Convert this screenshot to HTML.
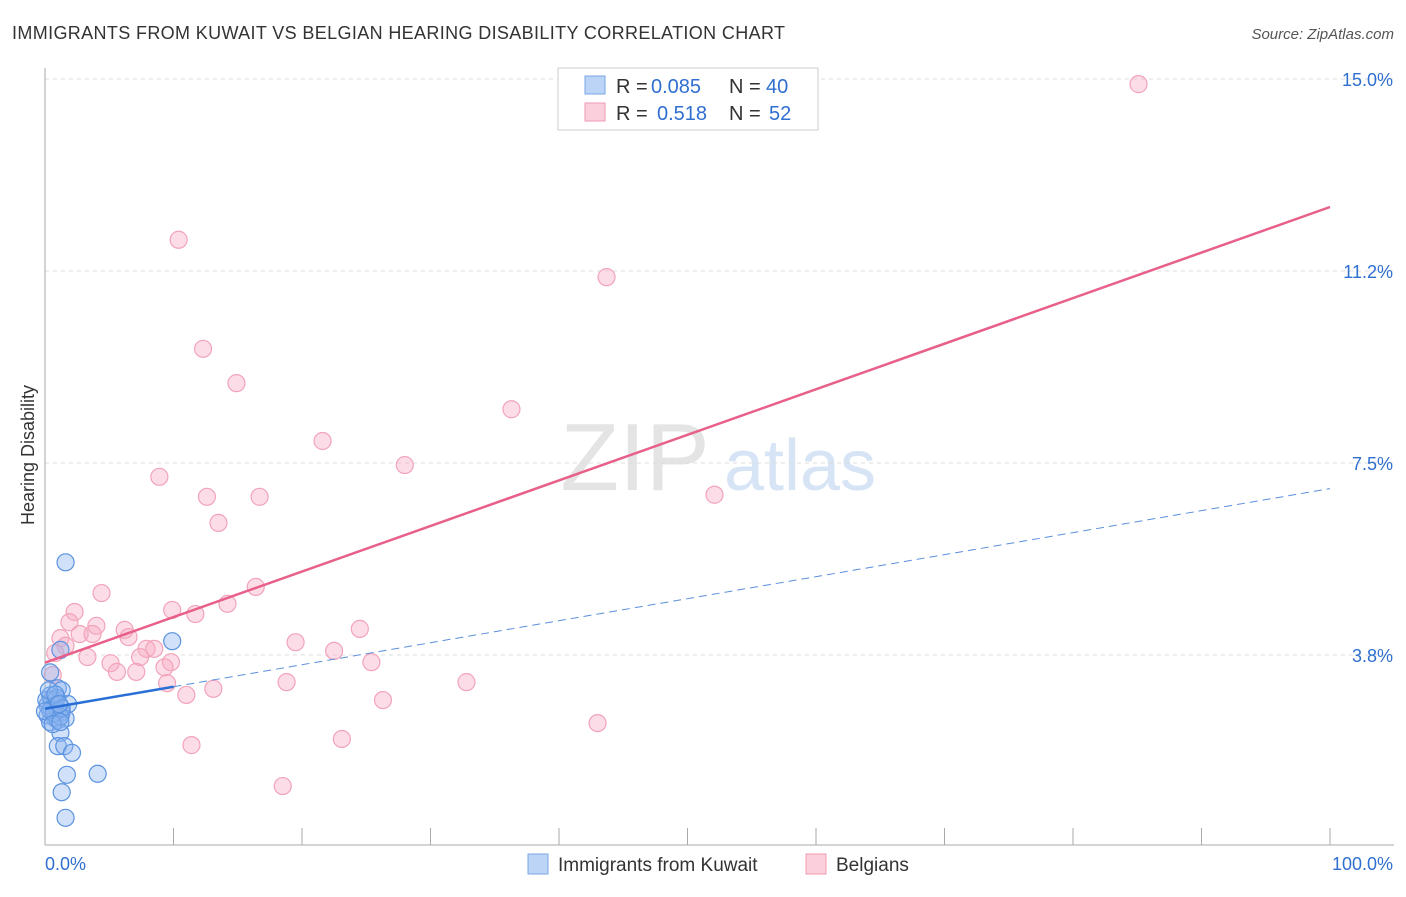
<!DOCTYPE html>
<html><head><meta charset="utf-8"><style>
body{margin:0;background:#fff;font-family:"Liberation Sans",sans-serif;}
svg text{font-family:"Liberation Sans",sans-serif;}
</style></head><body>
<svg id="chart" width="1406" height="892">
<text x="12" y="39" font-size="18" fill="#333" textLength="773">IMMIGRANTS FROM KUWAIT VS BELGIAN HEARING DISABILITY CORRELATION CHART</text>
<text x="1394" y="39" font-size="15" fill="#555" font-style="italic" text-anchor="end">Source: ZipAtlas.com</text>
<text x="34" y="455" font-size="18" fill="#333" transform="rotate(-90 34 455)" text-anchor="middle">Hearing Disability</text>
<g><text x="635" y="490" font-size="96" fill="#e4e4e4" font-family="Liberation Serif" text-anchor="middle">ZIP</text><text x="800" y="490" font-size="72" fill="#d6e4f5" text-anchor="middle">atlas</text></g>
<g id="grid"></g><g id="marks"></g>
<g>
<rect x="558" y="68" width="260" height="62" fill="#fff" stroke="#ccc"/>
<rect x="585" y="76" width="20" height="18" fill="#bcd4f5" stroke="#7aa6e6"/>
<rect x="585" y="103" width="20" height="18" fill="#fbd0dc" stroke="#f09ab2"/>
<text x="616" y="93" font-size="20" fill="#333">R =</text><text x="651" y="93" font-size="20" fill="#2f6fd0">0.085</text>
<text x="729" y="93" font-size="20" fill="#333">N =</text><text x="766" y="93" font-size="20" fill="#2f6fd0">40</text>
<text x="616" y="120" font-size="20" fill="#333">R =</text><text x="657" y="120" font-size="20" fill="#2f6fd0">0.518</text>
<text x="729" y="120" font-size="20" fill="#333">N =</text><text x="769" y="120" font-size="20" fill="#2f6fd0">52</text>
</g>
<g>
<rect x="528" y="854" width="20" height="20" fill="#bcd4f5" stroke="#7aa6e6"/>
<text x="558" y="871" font-size="19" fill="#333">Immigrants from Kuwait</text>
<rect x="806" y="854" width="20" height="20" fill="#fbd0dc" stroke="#f09ab2"/>
<text x="836" y="871" font-size="19" fill="#333">Belgians</text>
</g>
</svg>
<script>
const yTicks=[3.75,7.5,11.25,15];
const yTickLabels=["3.8%","7.5%","11.2%","15.0%"];
const xTickLabels=["0.0%","100.0%"];
const blueX=[1.6,1.2,9.9,0.4,1.0,1.3,0.4,0.8,1.8,0.2,0.5,1.0,1.3,0.2,0.8,1.6,0.4,1.0,1.2,1.0,1.5,2.1,1.7,4.1,1.3,1.6,0.5,0.8,1.2,0.1,0.4,0.7,0.9,1.3,0.0,0.6,1.2,0.3,0.8,1.1];
const blueY=[5.56,3.85,4.02,3.41,3.1,3.06,2.96,2.87,2.79,2.77,2.71,2.67,2.63,2.57,2.51,2.51,2.44,2.48,2.23,1.97,1.97,1.84,1.41,1.43,1.07,0.57,2.87,2.77,2.55,2.87,2.67,2.61,2.91,2.71,2.65,2.4,2.44,3.06,2.98,2.79];
const pinkX=[85.1,10.4,43.7,12.3,14.9,36.3,21.6,28.0,8.9,12.6,16.7,52.1,13.5,16.4,4.4,9.9,14.2,2.3,11.7,1.9,4.0,6.2,24.5,2.7,3.7,6.5,1.2,19.5,1.6,7.9,8.5,22.5,0.8,3.3,7.4,5.1,9.8,9.3,25.4,5.6,7.1,0.6,9.5,18.8,32.8,13.1,11.0,26.3,43.0,11.4,23.1,18.5];
const pinkY=[14.9,11.86,11.13,9.73,9.06,8.55,7.93,7.46,7.23,6.84,6.84,6.88,6.33,5.08,4.96,4.63,4.75,4.59,4.55,4.39,4.32,4.24,4.26,4.16,4.16,4.1,4.08,4.0,3.93,3.87,3.87,3.83,3.79,3.71,3.71,3.59,3.61,3.51,3.61,3.42,3.42,3.36,3.2,3.22,3.22,3.09,2.97,2.87,2.42,1.99,2.11,1.19];
const pinkTrend=[3.6,12.5];
const blueTrend=[2.7,7.0];
const X=v=>45+v*12.85, Y=v=>847-v*51.2;
const NS="http://www.w3.org/2000/svg";
const grid=document.getElementById('grid'), marks=document.getElementById('marks');
function mk(tag,attrs,parent){const e=document.createElementNS(NS,tag);for(const k in attrs)e.setAttribute(k,attrs[k]);parent.appendChild(e);return e;}
yTicks.forEach((t,i)=>{
 const l=mk('line',{x1:45,x2:1394,y1:Y(t),y2:Y(t),stroke:'#ddd','stroke-dasharray':'4,4'},grid);
 
 
 const tx=mk('text',{x:1393,y:Y(t)+7,'font-size':18,fill:'#2f6fd0','text-anchor':'end'},grid);tx.textContent=yTickLabels[i];
 
 
});
mk('line',{x1:45,x2:45,y1:68,y2:845,stroke:'#aaa'},grid);
mk('line',{x1:45,x2:1394,y1:845,y2:845,stroke:'#aaa'},grid);
for(let i=1;i<=10;i++){mk('line',{x1:45+i*128.5,x2:45+i*128.5,y1:828,y2:845,stroke:'#aaa'},grid);}
[[0,45,'start'],[1,1393,'end']].forEach(([i,x,a])=>{const t=mk('text',{x:x,y:870,'font-size':18,fill:'#2f6fd0','text-anchor':a},grid);t.textContent=xTickLabels[i];
 
 });
pinkX.forEach((x,i)=>{const c=mk('circle',{cx:X(x),cy:Y(pinkY[i]),r:8.5,fill:'rgba(248,170,195,0.4)',stroke:'#f2a3ba','stroke-width':1.2},marks);
 
 });
blueX.forEach((x,i)=>{const c=mk('circle',{cx:X(x),cy:Y(blueY[i]),r:8.5,fill:'rgba(140,180,240,0.4)',stroke:'#5b93e0','stroke-width':1.2},marks);
 
 });
const pt=mk('line',{x1:X(0),y1:Y(pinkTrend[0]),x2:X(100),y2:Y(pinkTrend[1]),stroke:'#e8608a','stroke-width':2.5},marks);


const bt=(v)=>blueTrend[0]+(blueTrend[1]-blueTrend[0])*v/100;
const b1=mk('line',{x1:X(0),y1:Y(bt(0)),x2:X(10),y2:Y(bt(10)),stroke:'#2a6fd6','stroke-width':2.5},marks);


const b2=mk('line',{x1:X(10),y1:Y(bt(10)),x2:X(100),y2:Y(bt(100)),stroke:'#5b8fdc','stroke-width':1,'stroke-dasharray':'8,5'},marks);


</script>
</body></html>
